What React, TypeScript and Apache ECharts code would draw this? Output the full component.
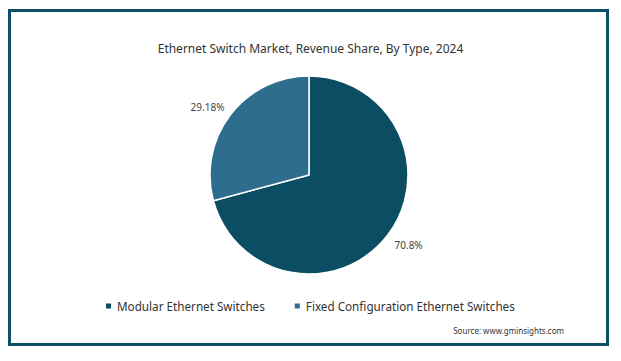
import React, { useEffect, useRef } from "react";
import * as echarts from "echarts";

const categories = ["Modular Ethernet Switches", "Fixed Configuration Ethernet Switches"];
const shares = [70.8, 29.18];
const labels = ["70.8%", "29.18%"];
const colors = ["#0b4d62", "#2e6d8e"];
const labelShift = [
  [-6, 4],
  [7, -2],
];

const FONT = "'Noto Sans', sans-serif";

export default function App() {
  const ref = useRef<HTMLDivElement>(null);
  useEffect(() => {
    const chart = echarts.init(ref.current!, null, { renderer: "svg" });
    chart.setOption({
      animation: false,
      backgroundColor: "#ffffff",
      title: {
        text: "Ethernet Switch Market, Revenue Share, By Type, 2024",
        left: "center",
        top: 37,
        textStyle: { fontFamily: FONT, fontSize: 12, fontWeight: "normal", color: "#333333" },
      },
      legend: {
        left: 99,
        top: 295,
        icon: "rect",
        itemWidth: 7,
        itemHeight: 7,
        itemGap: 28,
        textStyle: { fontFamily: FONT, fontSize: 11.7, color: "#333333" },
        data: categories,
      },
      graphic: [
        {
          type: "rect",
          shape: { x: 9.5, y: 10.5, width: 598, height: 334 },
          style: { fill: "none", stroke: "#0d4f66", lineWidth: 3 },
          silent: true,
        },
        {
          type: "text",
          right: 57,
          top: 326,
          style: { text: "Source: www.gminsights.com", fontFamily: FONT, fontSize: 8, fill: "#333333" },
        },
      ],
      series: [
        {
          type: "pie",
          center: [309, 175],
          radius: 99,
          startAngle: 90,
          clockwise: true,
          itemStyle: { borderColor: "#ffffff", borderWidth: 1.5 },
          label: {
            show: true,
            position: "outside",
            formatter: (p: any) => labels[p.dataIndex],
            fontFamily: FONT,
            fontSize: 10,
            color: "#444444",
          },
          labelLine: { show: false, length: 10, length2: 0 },
          labelLayout: (p: any) => ({ dx: labelShift[p.dataIndex][0], dy: labelShift[p.dataIndex][1] }),
          data: categories.map((c, i) => ({ name: c, value: shares[i], itemStyle: { color: colors[i] } })),
        },
      ],
    });
    return () => chart.dispose();
  }, []);
  return <div ref={ref} style={{ position: "fixed", left: 0, top: 0, width: 621, height: 361 }} />;
}
